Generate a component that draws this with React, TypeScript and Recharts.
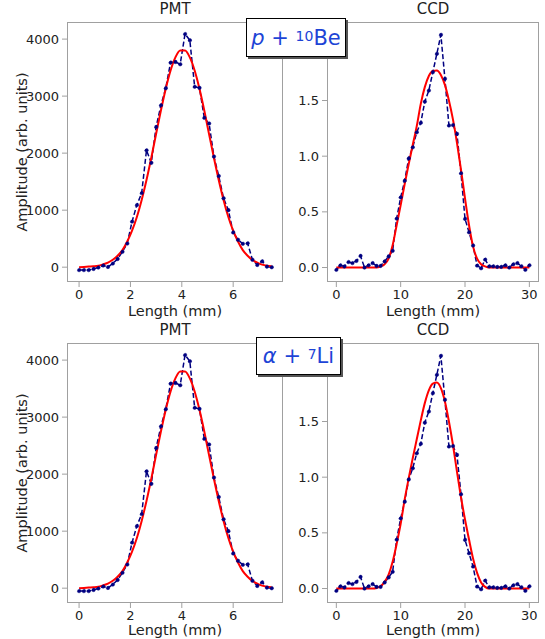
import React from 'react';
import { LineChart, Line, XAxis, YAxis } from 'recharts';

// ---------- data ----------
const pmtLength = [0, 0.1875, 0.375, 0.5625, 0.75, 0.9375, 1.125, 1.3125, 1.5, 1.6875, 1.875, 2.0625, 2.25, 2.4375, 2.625, 2.8125, 3.0, 3.1875, 3.375, 3.5625, 3.75, 3.9375, 4.125, 4.3125, 4.5, 4.6875, 4.875, 5.0625, 5.25, 5.4375, 5.625, 5.8125, 6.0, 6.1875, 6.375, 6.5625, 6.75, 6.9375, 7.125, 7.3125, 7.5];
const pmtAmplitude = [-50, -50, -50, -30, -5, 30, 5, 65, 145, 270, 415, 800, 1090, 1300, 2050, 1830, 2460, 2840, 3140, 3590, 3600, 3560, 4090, 3980, 3165, 3145, 2620, 2520, 1940, 1600, 1210, 1000, 610, 480, 410, 420, 130, 40, 105, 10, 0];
const pmtFit = [0, 5, 10, 15, 25, 50, 80, 130, 200, 300, 450, 640, 880, 1180, 1530, 1920, 2340, 2750, 3130, 3450, 3680, 3800, 3800, 3680, 3450, 3130, 2750, 2330, 1920, 1530, 1180, 880, 640, 450, 300, 200, 125, 80, 45, 25, 15];

const ccdLength = [0, 0.625, 1.25, 1.875, 2.5, 3.125, 3.75, 4.375, 5, 5.625, 6.25, 6.875, 7.5, 8.125, 8.75, 9.375, 10, 10.625, 11.25, 11.875, 12.5, 13.125, 13.75, 14.375, 15, 15.625, 16.25, 16.875, 17.5, 18.125, 18.75, 19.375, 20, 20.625, 21.25, 21.875, 22.5, 23.125, 23.75, 24.375, 25, 25.625, 26.25, 26.875, 27.5, 28.125, 28.75, 29.375, 30];
const ccdAmplitude = [-0.02, 0.02, 0.01, 0.05, 0.04, 0.06, 0.105, 0.0, 0.02, 0.04, 0.015, 0.015, 0.055, 0.1, 0.15, 0.44, 0.63, 0.78, 0.98, 1.08, 1.215, 1.3, 1.49, 1.59, 1.755, 1.92, 2.09, 1.695, 1.276, 1.28, 1.2, 0.847, 0.437, 0.317, 0.198, 0.018, -0.006, 0.072, 0.012, 0.012, 0.006, 0.006, 0.02, 0.0, 0.03, 0.04, 0.012, -0.02, 0.02];
const ccdFitLength = [0, 2.5, 5, 5.625, 6.25, 6.875, 7.5, 8.125, 8.75, 9.375, 10, 10.625, 11.25, 11.875, 12.5, 13.125, 13.75, 14.375, 15, 15.625, 16.25, 16.875, 17.5, 18.125, 18.75, 19.375, 20, 20.625, 21.25, 21.875, 22.5, 23.125, 23.75, 25, 27.5, 30];
const ccdFitTop = [0, 0, 0, 0, 0, 0.01, 0.03, 0.08, 0.2, 0.38, 0.56, 0.75, 0.93, 1.1, 1.27, 1.47, 1.62, 1.72, 1.765, 1.77, 1.73, 1.64, 1.5, 1.33, 1.12, 0.88, 0.62, 0.38, 0.19, 0.08, 0.03, 0.01, 0, 0, 0, 0];
const ccdFitBottom = [0, 0, 0, 0, 0.005, 0.02, 0.06, 0.125, 0.24, 0.4, 0.58, 0.8, 0.99, 1.17, 1.34, 1.51, 1.665, 1.78, 1.84, 1.85, 1.8, 1.68, 1.5, 1.29, 1.05, 0.82, 0.62, 0.44, 0.27, 0.14, 0.055, 0.015, 0, 0, 0, 0];

const pmtXTicks = [0, 2, 4, 6];
const pmtYTicks = [0, 1000, 2000, 3000, 4000];
const ccdXTicks = [0, 10, 20, 30];
const ccdYTicks = [0, 0.5, 1.0, 1.5];

const panelTitles = ['PMT', 'CCD'];
const xLabel = 'Length (mm)';
const yLabel = 'Amplitude (arb. units)';

// ---------- styling ----------
const FONT = "'DejaVu Sans', sans-serif";
const FRAME = '#a0a0a0';
const TEXT = '#222222';
const NAVY = '#000080';
const RED = '#ff0000';
const ANNOT = '#1d44d6';

const zip = (xs: number[], ys: number[]) => xs.map((x, i) => ({ x, y: ys[i] }));

type PanelProps = {
  left: number; top: number; width: number; height: number;
  plotLeft: number; plotTop: number; plotW: number; plotH: number;
  xDomain: [number, number]; yDomain: [number, number];
  xTicks: number[]; yTicks: number[];
  yFmt: (v: number) => string;
  data: { x: number; y: number }[];
  fit: { x: number; y: number }[];
  title: string;
};

function Panel(p: PanelProps) {
  const yAxisWidth = p.plotLeft - p.left;
  const marginTop = p.plotTop - p.top;
  const xAxisHeight = p.height - marginTop - p.plotH;
  const marginRight = p.width - yAxisWidth - p.plotW;
  return (
    <>
      <div style={{ position: 'absolute', left: p.left, top: p.top, width: p.width, height: p.height }}>
        <LineChart width={p.width} height={p.height}
          margin={{ top: marginTop, right: marginRight, bottom: 0, left: 0 }}>
          <XAxis type="number" dataKey="x" domain={p.xDomain} ticks={p.xTicks} allowDataOverflow
            axisLine={false} tickLine={{ stroke: FRAME }} tickSize={5} tickMargin={3}
            height={xAxisHeight} interval={0}
            tick={{ fill: TEXT, fontSize: 13, fontFamily: FONT }}
            label={{ value: xLabel, position: 'insideBottom', offset: 4, fill: TEXT, fontSize: 14.5, fontFamily: FONT }} />
          <YAxis type="number" dataKey="y" domain={p.yDomain} ticks={p.yTicks} allowDataOverflow
            axisLine={false} tickLine={{ stroke: FRAME }} tickSize={5} tickMargin={3}
            width={yAxisWidth} interval={0} tickFormatter={p.yFmt}
            tick={{ fill: TEXT, fontSize: 13, fontFamily: FONT }} />
          <Line data={p.data} dataKey="y" type="linear" stroke={NAVY} strokeWidth={1.5}
            strokeDasharray="5 2.5" dot={{ r: 1.8, fill: NAVY, stroke: NAVY, strokeWidth: 0.5 }}
            isAnimationActive={false} />
          <Line data={p.fit} dataKey="y" type="monotone" stroke={RED} strokeWidth={2}
            dot={false} isAnimationActive={false} />
        </LineChart>
      </div>
      <div style={{ position: 'absolute', left: p.plotLeft, top: p.plotTop, width: p.plotW, height: p.plotH,
        border: `1px solid ${FRAME}`, boxSizing: 'border-box', pointerEvents: 'none' }} />
      <div style={{ position: 'absolute', left: p.plotLeft + p.plotW / 2, top: p.plotTop - 13,
        transform: 'translate(-50%, -50%)', fontFamily: FONT, fontSize: 15, color: TEXT, whiteSpace: 'nowrap' }}>
        {p.title}
      </div>
    </>
  );
}

function YLabel({ x, y }: { x: number; y: number }) {
  return (
    <div style={{ position: 'absolute', left: x, top: y, transform: 'translate(-50%, -50%) rotate(-90deg)',
      fontFamily: FONT, fontSize: 14.5, color: TEXT, whiteSpace: 'nowrap' }}>
      {yLabel}
    </div>
  );
}

function Annotation({ left, top, width, height, children }: any) {
  return (
    <div style={{ position: 'absolute', left, top, width, height, boxSizing: 'border-box',
      border: '1px solid #000', background: '#fff', boxShadow: '2px 2px 0 #555',
      display: 'flex', alignItems: 'center', justifyContent: 'center',
      fontFamily: FONT, fontSize: 21, color: ANNOT, whiteSpace: 'nowrap' }}>
      {children}
    </div>
  );
}

export default function App() {
  const pmtData = zip(pmtLength, pmtAmplitude);
  const pmtFitData = zip(pmtLength, pmtFit);
  const ccdData = zip(ccdLength, ccdAmplitude);
  const ccdFitTopData = zip(ccdFitLength, ccdFitTop);
  const ccdFitBottomData = zip(ccdFitLength, ccdFitBottom);
  const pmtFmt = (v: number) => String(v);
  const ccdFmt = (v: number) => v.toFixed(1);
  const pmtX: [number, number] = [-0.47, 7.94];
  const pmtY: [number, number] = [-260, 4300];
  const ccdX: [number, number] = [-1.45, 31.5];
  const ccdY: [number, number] = [-0.13, 2.205];

  return (
    <div style={{ position: 'absolute', left: 0, top: 0, width: 545, height: 639, background: '#fff', overflow: 'hidden' }}>
      <Panel left={0} top={0} width={290} height={320} plotLeft={67} plotTop={22} plotW={216} plotH={260}
        xDomain={pmtX} yDomain={pmtY} xTicks={pmtXTicks} yTicks={pmtYTicks} yFmt={pmtFmt}
        data={pmtData} fit={pmtFitData} title={panelTitles[0]} />
      <Panel left={290} top={0} width={255} height={320} plotLeft={327} plotTop={22} plotW={212} plotH={260}
        xDomain={ccdX} yDomain={ccdY} xTicks={ccdXTicks} yTicks={ccdYTicks} yFmt={ccdFmt}
        data={ccdData} fit={ccdFitTopData} title={panelTitles[1]} />
      <Panel left={0} top={320} width={290} height={319} plotLeft={67} plotTop={343} plotW={216} plotH={260}
        xDomain={pmtX} yDomain={pmtY} xTicks={pmtXTicks} yTicks={pmtYTicks} yFmt={pmtFmt}
        data={pmtData} fit={pmtFitData} title={panelTitles[0]} />
      <Panel left={290} top={320} width={255} height={319} plotLeft={327} plotTop={343} plotW={212} plotH={260}
        xDomain={ccdX} yDomain={ccdY} xTicks={ccdXTicks} yTicks={ccdYTicks} yFmt={ccdFmt}
        data={ccdData} fit={ccdFitBottomData} title={panelTitles[1]} />
      <YLabel x={22} y={152} />
      <YLabel x={22} y={473} />
      <Annotation left={246} top={18} width={100} height={39}>
        <span style={{ fontStyle: 'italic' }}>p</span>
        <span>&nbsp;+&nbsp;</span>
        <sup style={{ fontSize: 14, position: 'relative', top: -2 }}>10</sup>
        <span>Be</span>
      </Annotation>
      <Annotation left={256} top={337} width={85} height={38}>
        <span style={{ fontStyle: 'italic' }}>α</span>
        <span>&nbsp;+&nbsp;</span>
        <sup style={{ fontSize: 14, position: 'relative', top: -2 }}>7</sup>
        <span>Li</span>
      </Annotation>
    </div>
  );
}
